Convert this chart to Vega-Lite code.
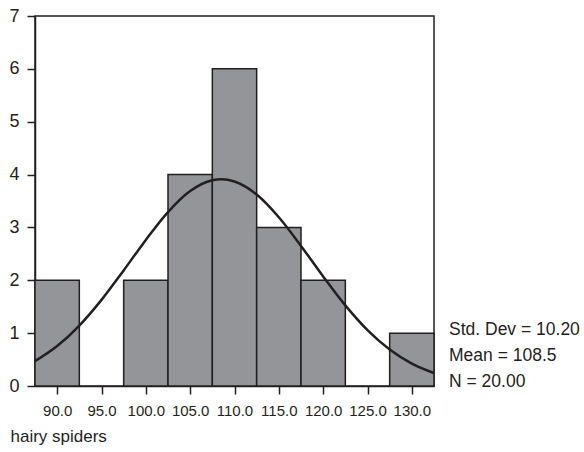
{
  "$schema": "https://vega.github.io/schema/vega-lite/v6.json",
  "width": 399,
  "height": 370,
  "autosize": {"type": "none"},
  "padding": {"left": 35, "top": 16, "right": 150, "bottom": 66},
  "background": "white",
  "config": {
    "font": "Liberation Sans",
    "view": {"stroke": "#231f20", "strokeWidth": 1.5},
    "axis": {"grid": false, "domainColor": "#231f20", "domainWidth": 1.5, "tickColor": "#231f20", "tickWidth": 1.5, "tickSize": 8, "labelColor": "#231f20", "titleColor": "#231f20"}
  },
  "datasets": {
    "bars": [
      {"bin_start": 87.5, "bin_end": 92.5, "count": 2},
      {"bin_start": 97.5, "bin_end": 102.5, "count": 2},
      {"bin_start": 102.5, "bin_end": 107.5, "count": 4},
      {"bin_start": 107.5, "bin_end": 112.5, "count": 6},
      {"bin_start": 112.5, "bin_end": 117.5, "count": 3},
      {"bin_start": 117.5, "bin_end": 122.5, "count": 2},
      {"bin_start": 127.5, "bin_end": 132.5, "count": 1}
    ],
    "curve": [
      {"x": 87.5, "y": 0.470},
      {"x": 90, "y": 0.755},
      {"x": 92.5, "y": 1.143},
      {"x": 95, "y": 1.629},
      {"x": 97.5, "y": 2.187},
      {"x": 100, "y": 2.764},
      {"x": 102.5, "y": 3.290},
      {"x": 105, "y": 3.688},
      {"x": 107.5, "y": 3.893},
      {"x": 108.5, "y": 3.911},
      {"x": 110, "y": 3.869},
      {"x": 112.5, "y": 3.622},
      {"x": 115, "y": 3.192},
      {"x": 117.5, "y": 2.650},
      {"x": 120, "y": 2.072},
      {"x": 122.5, "y": 1.525},
      {"x": 125, "y": 1.057},
      {"x": 127.5, "y": 0.690},
      {"x": 130, "y": 0.424},
      {"x": 132.5, "y": 0.246}
    ]
  },
  "layer": [
    {
      "data": {"name": "bars"},
      "mark": {"type": "rect", "fill": "#939598", "stroke": "#231f20", "strokeWidth": 1.5},
      "encoding": {
        "x": {
          "field": "bin_start", "type": "quantitative",
          "scale": {"domain": [87.5, 132.5], "nice": false, "zero": false},
          "axis": {
            "values": [90, 95, 100, 105, 110, 115, 120, 125, 130],
            "format": ".1f", "labelFontSize": 15, "labelPadding": 9,
            "title": "hairy spiders", "titleFontSize": 17, "titleFontWeight": "normal",
            "titleAnchor": "start", "titleAlign": "left", "titleX": -25, "titleY": 55, "titleBaseline": "alphabetic"
          }
        },
        "x2": {"field": "bin_end"},
        "y": {
          "field": "count", "type": "quantitative",
          "scale": {"domain": [0, 7], "nice": false},
          "axis": {"values": [0, 1, 2, 3, 4, 5, 6, 7], "format": "d", "labelFontSize": 18, "labelPadding": 8, "title": null}
        },
        "y2": {"datum": 0}
      }
    },
    {
      "data": {"name": "curve"},
      "mark": {"type": "line", "color": "#231f20", "strokeWidth": 2.5, "interpolate": "monotone"},
      "encoding": {
        "x": {"field": "x", "type": "quantitative"},
        "y": {"field": "y", "type": "quantitative"}
      }
    },
    {
      "data": {"values": [{}]},
      "mark": {"type": "text", "text": ["Std. Dev = 10.20", "Mean = 108.5", "N = 20.00"], "align": "left", "baseline": "alphabetic", "dx": 15, "fontSize": 17.5, "lineHeight": 26, "color": "#231f20"},
      "encoding": {
        "x": {"datum": 132.5, "type": "quantitative"},
        "y": {"datum": 0.96, "type": "quantitative"}
      }
    }
  ]
}
